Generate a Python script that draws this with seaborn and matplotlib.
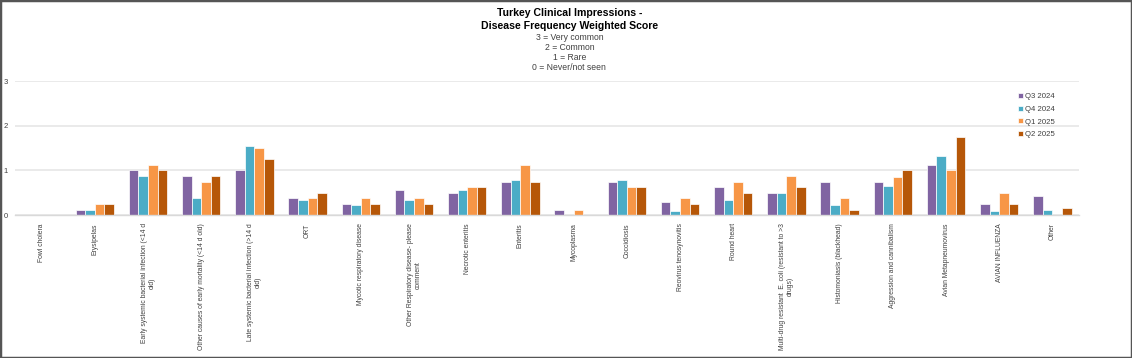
import matplotlib
matplotlib.use("Agg")
import matplotlib.pyplot as plt
import seaborn as sns
import pandas as pd
from matplotlib.patches import Rectangle
from matplotlib.ticker import FixedLocator

categories = [
    "Fowl cholera",
    "Erysipelas",
    "Early systemic bacterial infection (<14 d\nold)",
    "Other causes of early mortality (<14 d old)",
    "Late systemic bacterial infection (>14 d\nold)",
    "ORT",
    "Mycotic respiratory disease",
    "Other Respiratory disease- please\ncomment",
    "Necrotic enteritis",
    "Enteritis",
    "Mycoplasma",
    "Coccidiosis",
    "Reovirus tenosynovitis",
    "Round heart",
    "Multi-drug resistant  E. coli (resistant to >3\ndrugs)",
    "Histomoniasis (blackhead)",
    "Aggression and cannibalism",
    "Avian Metapneumovirus",
    "AVIAN INFLUENZA",
    "Other",
]
series_names = ["Q3 2024", "Q4 2024", "Q1 2025", "Q2 2025"]
q3_2024 = [0, 0.11, 1.0, 0.875, 1.0, 0.37, 0.25, 0.57, 0.49, 0.75, 0.11, 0.75, 0.28, 0.63, 0.49, 0.75, 0.75, 1.13, 0.25, 0.43]
q4_2024 = [0, 0.11, 0.875, 0.37, 1.55, 0.33, 0.22, 0.33, 0.55, 0.78, 0, 0.78, 0.10, 0.33, 0.49, 0.22, 0.66, 1.33, 0.10, 0.11]
q1_2025 = [0, 0.25, 1.125, 0.75, 1.5, 0.37, 0.37, 0.37, 0.63, 1.125, 0.11, 0.63, 0.37, 0.75, 0.87, 0.37, 0.85, 1.0, 0.49, 0]
q2_2025 = [0, 0.25, 1.0, 0.875, 1.25, 0.5, 0.25, 0.24, 0.63, 0.75, 0, 0.63, 0.24, 0.49, 0.63, 0.11, 1.0, 1.75, 0.25, 0.16]
colors = ["#8064A2", "#4BACC6", "#F79646", "#B65708"]

rows = []
for name, vals in zip(series_names, [q3_2024, q4_2024, q1_2025, q2_2025]):
    for c, v in zip(categories, vals):
        rows.append({"Disease": c, "Quarter": name, "Score": v})
df = pd.DataFrame(rows)

sns.set_theme(style="white")
plt.rcParams["font.family"] = ["Liberation Sans", "DejaVu Sans"]

fig = plt.figure(figsize=(11.32, 3.58), dpi=100)
ax = fig.add_axes([15 / 1132, 1 - 215 / 358, (1079 - 15) / 1132, (215 - 81) / 358])

sns.barplot(data=df, x="Disease", y="Score", hue="Quarter", order=categories,
            hue_order=series_names, palette=colors, width=0.72, saturation=1,
            edgecolor="white", linewidth=0.5, ax=ax, legend=True)

ax.set_ylim(0, 3)
ax.set_xlim(-0.5, len(categories) - 0.5)
ax.set_yticks([0, 1, 2, 3])
ax.yaxis.grid(True, color="#e6e6e6", linewidth=1.2)
ax.set_axisbelow(True)
for s in ["top", "right", "left"]:
    ax.spines[s].set_visible(False)
ax.spines["bottom"].set_color("#d9d9d9")
ax.spines["bottom"].set_linewidth(1.0)
ax.set_xlabel("")
ax.set_ylabel("")
ax.tick_params(axis="y", length=0, labelsize=5.5, labelcolor="#404040", pad=5)
ax.tick_params(axis="x", which="major", length=0, labelsize=4.9, labelcolor="#404040", pad=6)
ax.xaxis.set_minor_locator(FixedLocator([i + 0.5 for i in range(-1, len(categories))]))
ax.tick_params(axis="x", which="minor", length=3, color="#d9d9d9", width=0.8)
for lab in ax.get_xticklabels():
    lab.set_rotation(90)
    lab.set_ha("center")
    lab.set_va("top")
    lab.set_multialignment("center")

handles, labels = ax.get_legend_handles_labels()
ax.legend(handles, labels, loc="upper left", bbox_to_anchor=(1011 / 1132, 1 - 86 / 358),
          bbox_transform=fig.transFigure, frameon=False, fontsize=5.6,
          handlelength=0.6, handleheight=0.6, handletextpad=0.3, labelspacing=0.7)
for t in ax.get_legend().get_texts():
    t.set_color("#404040")

fig.text(0.503, 1 - 13 / 358, "Turkey Clinical Impressions -", ha="center", va="center",
         fontsize=7.6, fontweight="bold", color="black")
fig.text(0.503, 1 - 26 / 358, "Disease Frequency Weighted Score", ha="center", va="center",
         fontsize=7.6, fontweight="bold", color="black")
subs = ["3 = Very common", "2 = Common", "1 = Rare", "0 = Never/not seen"]
for i, s in enumerate(subs):
    fig.text(0.503, 1 - (38 + 9.8 * i) / 358, s, ha="center", va="center",
             fontsize=6.2, color="#404040")

fig.patches.append(Rectangle((0, 0), 1, 1, transform=fig.transFigure, fill=False,
                             edgecolor="#555555", linewidth=2.5, zorder=10))

fig.savefig("out.png", dpi=100)
